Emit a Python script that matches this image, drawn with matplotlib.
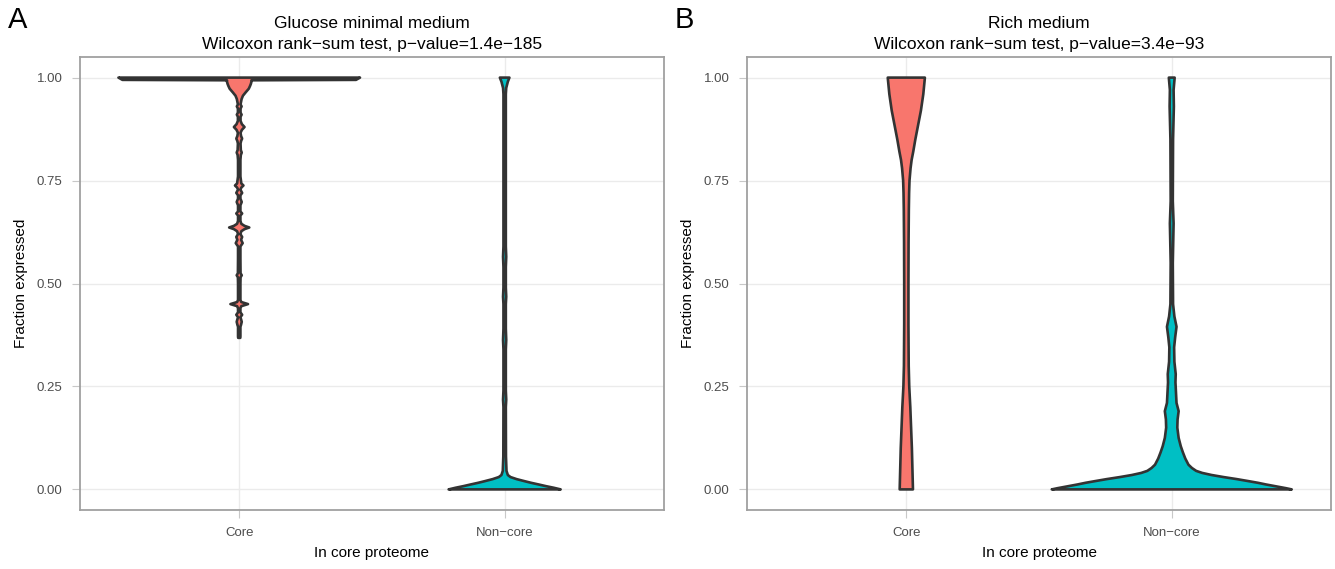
import matplotlib.pyplot as plt
import numpy as np

plt.rcParams['font.family'] = ['Liberation Sans', 'DejaVu Sans']

groups = ['Core', 'Non\u2212core']
colors = ['#F8766D', '#00BFC4']
titles = ['Glucose minimal medium\nWilcoxon rank\u2212sum test, p\u2212value=1.4e\u2212185',
          'Rich medium\nWilcoxon rank\u2212sum test, p\u2212value=3.4e\u221293']
panel_tags = ['A', 'B']
yticks = [0.0, 0.25, 0.5, 0.75, 1.0]
ytick_labels = ['0.00', '0.25', '0.50', '0.75', '1.00']

# violin outlines: fraction level -> half width (x units)
glu_core_y = [0.368, 0.372, 0.395, 0.400, 0.407, 0.413, 0.418, 0.424, 0.430, 0.440, 0.445,
              0.450, 0.455, 0.460, 0.470, 0.500, 0.515, 0.520, 0.525, 0.560, 0.590, 0.598,
              0.606, 0.613, 0.620, 0.627, 0.632, 0.636, 0.640, 0.645, 0.652, 0.665, 0.670,
              0.675, 0.690, 0.698, 0.706, 0.714, 0.720, 0.728, 0.733, 0.738, 0.743, 0.760,
              0.800, 0.812, 0.818, 0.824, 0.840, 0.846, 0.852, 0.858, 0.866, 0.873, 0.880,
              0.887, 0.895, 0.905, 0.910, 0.915, 0.925, 0.930, 0.935, 0.948, 0.956, 0.964,
              0.973, 0.980, 0.985, 0.990, 0.9935, 0.9945, 1.0]
glu_core_w = [0.004, 0.0045, 0.0045, 0.007, 0.0095, 0.007, 0.0045, 0.011, 0.0045, 0.0045, 0.008,
              0.033, 0.008, 0.0045, 0.0045, 0.0045, 0.005, 0.0095, 0.005, 0.0045, 0.0045, 0.013,
              0.007, 0.011, 0.0045, 0.008, 0.02, 0.038, 0.02, 0.008, 0.0045, 0.0045, 0.011,
              0.0045, 0.0045, 0.0095, 0.0045, 0.0045, 0.011, 0.0045, 0.008, 0.016, 0.008, 0.0045,
              0.0045, 0.006, 0.0095, 0.006, 0.005, 0.007, 0.011, 0.007, 0.005, 0.01, 0.02,
              0.01, 0.005, 0.005, 0.009, 0.005, 0.005, 0.009, 0.005, 0.009, 0.014, 0.024,
              0.036, 0.041, 0.044, 0.046, 0.046, 0.44, 0.455]
glu_non_y = [0.0, 0.004, 0.008, 0.012, 0.016, 0.020, 0.025, 0.030, 0.035, 0.045, 0.080,
             0.200, 0.218, 0.240, 0.340, 0.363, 0.390, 0.450, 0.468, 0.490, 0.540, 0.565,
             0.590, 0.960, 0.975, 0.990, 1.0]
glu_non_w = [0.211, 0.185, 0.155, 0.128, 0.100, 0.075, 0.045, 0.022, 0.012, 0.007, 0.005,
             0.0045, 0.006, 0.0045, 0.0045, 0.006, 0.0045, 0.0045, 0.006, 0.0045, 0.0045, 0.006,
             0.0045, 0.0045, 0.006, 0.012, 0.018]
rich_core_y = [0.0, 0.05, 0.10, 0.15, 0.20, 0.25, 0.30, 0.40, 0.50, 0.60, 0.68, 0.72, 0.75,
               0.78, 0.80, 0.82, 0.85, 0.88, 0.92, 0.96, 1.0]
rich_core_w = [0.025, 0.023, 0.021, 0.018, 0.015, 0.011, 0.009, 0.008, 0.008, 0.0085, 0.0095,
               0.0105, 0.012, 0.016, 0.020, 0.026, 0.034, 0.043, 0.055, 0.064, 0.070]
rich_non_y = [0.0, 0.003, 0.006, 0.009, 0.012, 0.016, 0.020, 0.025, 0.030, 0.035, 0.040, 0.045,
              0.052, 0.060, 0.075, 0.090, 0.105, 0.125, 0.150, 0.170, 0.190, 0.210, 0.235,
              0.260, 0.280, 0.310, 0.345, 0.370, 0.395, 0.420, 0.450, 0.550, 0.646, 0.700,
              0.850, 0.930, 0.970, 1.0]
rich_non_w = [0.452, 0.43, 0.405, 0.38, 0.355, 0.325, 0.29, 0.245, 0.195, 0.15, 0.115, 0.092,
              0.076, 0.063, 0.051, 0.042, 0.034, 0.026, 0.021, 0.022, 0.026, 0.018, 0.016,
              0.014, 0.015, 0.010, 0.009, 0.013, 0.018, 0.010, 0.005, 0.004, 0.007, 0.004,
              0.005, 0.008, 0.007, 0.011]

panels = [[(glu_core_y, glu_core_w), (glu_non_y, glu_non_w)],
          [(rich_core_y, rich_core_w), (rich_non_y, rich_non_w)]]

fig = plt.figure(figsize=(13.35, 5.69), dpi=100)
lefts = [0.0599, 0.5596]
for i in range(2):
    ax = fig.add_axes([lefts[i], 0.1037, 0.4374, 0.7961])
    for j in range(2):
        y = np.array(panels[i][j][0])
        w = np.array(panels[i][j][1])
        c = j + 1
        xs = np.concatenate([c - w, (c + w)[::-1]])
        ys = np.concatenate([y, y[::-1]])
        ax.fill(xs, ys, facecolor=colors[j], edgecolor='#333333', linewidth=1.9,
                joinstyle='round', zorder=3)
    ax.set_xlim(0.4, 2.6)
    ax.set_ylim(-0.05, 1.05)
    ax.set_xticks([1, 2])
    ax.set_xticklabels(groups)
    ax.set_yticks(yticks)
    ax.set_yticklabels(ytick_labels)
    ax.grid(True, color='#EBEBEB', linewidth=1.0, zorder=0)
    ax.set_axisbelow(True)
    for s in ax.spines.values():
        s.set_color('#A0A0A0')
        s.set_linewidth(1.3)
    ax.tick_params(colors='#C8C8C8', labelcolor='#4D4D4D', labelsize=9.5, length=5.5,
                   width=0.8, pad=7)
    ax.set_ylabel('Fraction expressed', fontsize=11, color='black', labelpad=6)
    ax.set_xlabel('In core proteome', fontsize=11, color='black', labelpad=5)
    ax.set_title(titles[i], fontsize=12.5, linespacing=1.45, pad=6)
    fig.text(lefts[i] - 0.054, 0.94, panel_tags[i], fontsize=21, va='bottom', ha='left')

fig.savefig('out.png', dpi=100, facecolor='white')
